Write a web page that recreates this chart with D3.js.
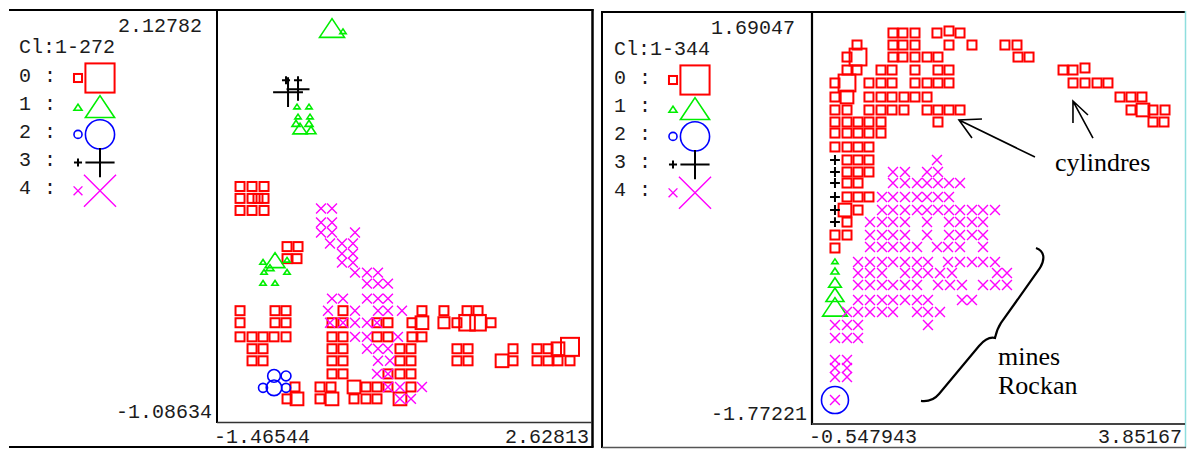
<!DOCTYPE html>
<html><head><meta charset="utf-8">
<script src="https://cdn.jsdelivr.net/npm/d3@7"></script>
<style>body{margin:0;background:#fff}svg{display:block}</style>
</head><body>
<script>
// ---------- axis extents (tick labels) ----------
const leftXDomain = [-1.46544, 2.62813];
const leftYDomain = [-1.08634, 2.12782];
const rightXDomain = [-0.547943, 3.85167];
const rightYDomain = [-1.77221, 1.69047];
const leftTitle = "Cl:1-272";
const rightTitle = "Cl:1-344";
const classLabels = ["0", "1", "2", "3", "4"];

// ---------- LEFT panel data : rows [y, [x...]] weight 1, heavy points [x,y,w] ----------
const L_sqRows = [
 [0.751, [-1.214, -1.083, -0.952]],
 [0.658, [-1.214, -1.083, -1.018, -0.952]],
 [0.564, [-1.214, -1.083, -0.952]],
 [0.282, [-0.701, -0.581]],
 [0.188, [-0.701, -0.592]],
 [-0.218, [-1.214, -0.832, -0.712, -0.090, 0.772, 1.012, 1.264, 1.384]],
 [-0.312, [-1.214, -0.832, -0.712, -0.210, -0.090, 0.281, 0.401, 0.663, 1.154, 1.526]],
 [-0.422, [-1.214, -1.083, -0.963, -0.843, -0.712, -0.210, -0.090, 0.281, 0.401, 0.663, 0.772]],
 [-0.515, [-1.083, -0.963, -0.210, -0.090, 0.532, 0.652, 1.154, 1.275, 1.766, 2.028, 2.148]],
 [-0.609, [-1.083, -0.963, -0.210, -0.090, 0.532, 0.652, 1.154, 1.275, 1.766, 2.028, 2.148, 2.257, 2.388]],
 [-0.711, [-0.210, -0.090, 0.401, 0.532, 0.652]],
 [-0.813, [-0.614, -0.341, -0.221, 0.161, 0.281, 0.401, 0.652]],
 [-0.906, [-0.701, -0.341, 0.030, 0.161, 0.281]]
];
const L_sqHeavy = [[0.772,-0.312,2],[1.012,-0.312,1.5],[1.264,-0.312,3],[1.384,-0.312,3],[2.257,-0.515,2],[2.388,-0.50,4],[1.646,-0.609,2],[0.030,-0.813,2],[-0.592,-0.906,2],[-0.210,-0.906,2],[0.532,-0.906,2]];
const L_tri = [[-0.210,1.963,7.7],[-0.090,1.956,0.5],[-0.592,1.369,0.5],[-0.461,1.369,0.5],[-0.581,1.291,0.5],[-0.450,1.291,0.5],[-0.603,1.236,0.8],[-0.461,1.236,0.8],[-0.559,1.189,2.5],[-0.439,1.182,1.2],[-0.832,0.157,4.9],[-0.963,0.157,0.5],[-0.701,0.173,0.5],[-0.952,0.079,0.5],[-0.701,0.079,0.5],[-0.963,-0.007,0.5],[-0.832,-0.007,0.5],[-0.887,0.110,0.8]];
const L_circ = [[-0.843,-0.727,2],[-0.712,-0.727,1.2],[-0.963,-0.820,1],[-0.843,-0.820,3],[-0.712,-0.820,1]];
const L_plus = [[-0.690,1.487,11],[-0.581,1.510,6.5],[-0.712,1.580,0.8],[-0.581,1.580,0.8]];
const L_xRows = [
 [0.579, [-0.330, -0.210]],
 [0.470, [-0.330, -0.210]],
 [0.392, [-0.330, -0.210, 0.041]],
 [0.306, [-0.232, -0.101, 0.019]],
 [0.227, [-0.101, 0.019]],
 [0.157, [-0.101, 0.019]],
 [0.079, [0.041, 0.172, 0.292]],
 [-0.007, [0.172, 0.292, 0.401]],
 [-0.124, [-0.210, -0.090, 0.172, 0.292, 0.401]],
 [-0.218, [-0.254, 0.041, 0.292, 0.401, 0.554]],
 [-0.312, [-0.232, -0.090, 0.041, 0.172, 0.281]],
 [-0.422, [0.041, 0.172, 0.510]],
 [-0.515, [0.172, 0.292, 0.401]],
 [-0.609, [0.292, 0.423]],
 [-0.711, [0.281, 0.401]],
 [-0.813, [0.401, 0.532, 0.772]],
 [-0.906, [0.532, 0.652]]
];

// ---------- RIGHT panel data ----------
const R_sqRows = [
 [1.514, [0.407, 0.525, 0.667, 0.926, 1.198]],
 [1.531, [1.068]],
 [1.413, [-0.017, 0.407, 0.525, 0.667, 1.068, 1.339, 1.728, 1.870]],
 [1.312, [-0.135, 0.407, 0.525, 0.667, 0.809, 0.938, 1.882, 2.012]],
 [1.203, [-0.135, -0.017, 0.266, 0.396, 0.667, 0.938, 1.068, 2.413, 2.531]],
 [1.220, [2.672]],
 [1.094, [-0.277, 0.124, 0.266, 0.396, 0.667, 0.809, 0.938, 1.068, 2.531, 2.672, 2.814, 2.943]],
 [0.976, [-0.277, 0.124, 0.266, 0.396, 0.537, 0.667, 0.809, 3.085, 3.215, 3.344]],
 [0.867, [-0.277, -0.135, 0.124, 0.266, 0.396, 0.537, 0.809, 0.938, 1.068, 1.198, 3.215, 3.474, 3.616]],
 [0.766, [-0.277, -0.135, -0.005, 0.124, 0.266, 0.938, 3.474, 3.604]],
 [0.673, [-0.277, -0.135, -0.005, 0.124, 0.266]],
 [0.556, [-0.277, -0.135, -0.005, 0.124]],
 [0.447, [-0.135, -0.005, 0.124]],
 [0.346, [-0.135, -0.005, 0.124]],
 [0.253, [-0.135, -0.005]],
 [0.136, [-0.135, -0.005, 0.124]],
 [0.026, [-0.005]],
 [-0.075, [-0.135]],
 [-0.184, [-0.277, -0.135]],
 [-0.293, [-0.277]]
];
const R_sqHeavy = [[-0.005,1.312,3.5],[-0.135,1.094,3.5],[-0.135,0.976,2],[3.356,0.867,2],[-0.159,0.026,2]];
const R_tri = [[-0.277,-0.411,0.5],[-0.277,-0.495,0.8],[-0.277,-0.596,2],[-0.277,-0.705,4],[-0.277,-0.814,7.5]];
const R_circ = [[-0.277,-1.571,9]];
const R_plus = [[-0.277,0.447,1.2],[-0.277,0.346,1.2],[-0.277,0.253,1.2],[-0.277,0.136,1.2],[-0.277,0.026,1.2],[-0.277,-0.075,1.2]];
const R_xRows = [
 [0.447, [0.926]],
 [0.346, [0.407, 0.549, 0.809, 0.938]],
 [0.253, [0.407, 0.549, 0.691, 0.809, 0.938, 1.068, 1.198]],
 [0.136, [0.278, 0.407, 0.549, 0.691, 0.809, 0.938, 1.068]],
 [0.026, [0.278, 0.407, 0.549, 0.691, 0.809, 0.938, 1.068, 1.198, 1.339, 1.469, 1.611]],
 [-0.075, [0.136, 0.278, 0.407, 0.549, 0.809, 1.068, 1.198, 1.339, 1.469]],
 [-0.184, [0.136, 0.278, 0.407, 0.549, 0.809, 1.068, 1.198, 1.339, 1.469]],
 [-0.285, [0.136, 0.278, 0.407, 0.549, 0.691, 0.926, 1.056, 1.198, 1.469]],
 [-0.411, [-0.005, 0.136, 0.278, 0.407, 0.549, 0.691, 0.820, 1.056, 1.198, 1.339, 1.469, 1.611]],
 [-0.503, [-0.005, 0.136, 0.278, 0.549, 0.691, 0.820, 0.962, 1.103, 1.634, 1.752]],
 [-0.604, [-0.005, 0.136, 0.278, 0.407, 0.549, 0.691, 0.938, 1.080, 1.221, 1.469, 1.611, 1.752]],
 [-0.730, [-0.005, 0.136, 0.278, 0.407, 0.549, 0.691, 0.820, 1.221, 1.339]],
 [-0.831, [-0.135, -0.005, 0.136, 0.278, 0.407, 0.691, 0.820, 0.962]],
 [-0.940, [-0.277, -0.135, -0.005, 0.820]],
 [-1.050, [-0.277, -0.135, -0.005]],
 [-1.234, [-0.277, -0.135]],
 [-1.302, [-0.277, -0.135]],
 [-1.377, [-0.277, -0.135]],
 [-1.571, [-0.277]]
];

// annotation anchors (data units, right panel)
const annCyl = [2.318, 0.354];
const annMines = [1.646, -1.276];

// legend marker weights (small / big)
const legendWeights = [0.8, 10.5];

// ---------- helpers ----------
function rowsToPts(rows, heavy) {
  const out = [];
  (rows || []).forEach(([y, xs]) => xs.forEach(x => out.push({x, y, w: 1})));
  (heavy || []).forEach(([x, y, w]) => out.push({x, y, w}));
  return out;
}
const sizeOf = w => 9 * Math.sqrt(w);
const colors = ["#ff0000", "#00ee00", "#0000ff", "#000000", "#ff00ff"];
const MONO = "'Liberation Mono','DejaVu Sans Mono',monospace";

function marker(g, cls, cx, cy, s) {
  const c = colors[cls];
  if (cls === 0) {
    g.append("rect").attr("x", cx - s/2).attr("y", cy - s/2).attr("width", s).attr("height", s)
      .attr("fill", "none").attr("stroke", c).attr("stroke-width", 2);
  } else if (cls === 1) {
    const h = 0.75 * s;
    g.append("path").attr("d", `M${cx},${cy - 2*h/3}L${cx + s/2},${cy + h/3}L${cx - s/2},${cy + h/3}Z`)
      .attr("fill", "none").attr("stroke", c).attr("stroke-width", 1.6).attr("stroke-linejoin", "miter");
  } else if (cls === 2) {
    g.append("circle").attr("cx", cx).attr("cy", cy).attr("r", s/2)
      .attr("fill", "none").attr("stroke", c).attr("stroke-width", 1.6);
  } else if (cls === 3) {
    g.append("path").attr("d", `M${cx - s/2},${cy}H${cx + s/2}M${cx},${cy - s/2}V${cy + s/2}`)
      .attr("stroke", c).attr("stroke-width", 2).attr("fill", "none");
  } else {
    const t = s * 1.1;
    g.append("path").attr("d", `M${cx - t/2},${cy - t/2}L${cx + t/2},${cy + t/2}M${cx + t/2},${cy - t/2}L${cx - t/2},${cy + t/2}`)
      .attr("stroke", c).attr("stroke-width", 1.4).attr("fill", "none");
  }
}

const svg = d3.select("body").append("svg").attr("width", 1188).attr("height", 449);

function panel(cfg) {
  const g = svg.append("g");
  const x = d3.scaleLinear().domain(cfg.xDomain).range([cfg.px0, cfg.px1]);
  const y = d3.scaleLinear().domain(cfg.yDomain).range([cfg.py1, cfg.py0]);

  const line = (x1, y1, x2, y2, w, col) => g.append("line").attr("x1", x1).attr("y1", y1).attr("x2", x2).attr("y2", y2)
      .attr("stroke", col || "#000").attr("stroke-width", w);
  cfg.frame(line);

  const sets = [cfg.squares, cfg.tris, cfg.circs, cfg.plus, cfg.xs];
  const mg = g.append("g");
  sets.forEach((pts, cls) => pts.forEach(p => marker(mg, cls, x(p.x), y(p.y), sizeOf(p.w))));

  const txt = (t, tx, ty, anchor) => g.append("text").attr("x", tx).attr("y", ty).attr("text-anchor", anchor)
      .attr("font-family", MONO).attr("font-size", 20).attr("fill", "#1c1c1c").text(t);
  txt(String(cfg.yDomain[1]), cfg.px0 - cfg.yMaxOff, cfg.py0 + 22, "end");
  txt(String(cfg.yDomain[0]), cfg.px0 - 5, cfg.py1 - 4, "end");
  txt(String(cfg.xDomain[0]), cfg.px0 - 3, 443, "start");
  txt(String(cfg.xDomain[1]), cfg.px1 - 3, 443, "end");

  const lx = cfg.lx, top = cfg.py0;
  txt(cfg.title, lx + 19, top + 43, "start");
  classLabels.forEach((lab, i) => {
    const by = top + 72 + 28 * i;
    txt(lab, lx + 19, by, "start");
    txt(":", lx + 44, by, "start");
    const cy = top + 68 + 28.2 * i;
    marker(g, i, lx + 78, cy + (i === 1 ? 2 : 0), sizeOf(legendWeights[0]));
    marker(g, i, lx + 100, cy + (i === 1 ? 4 : 0), sizeOf(legendWeights[1]));
  });
  return {g, x, y};
}

panel({
  xDomain: leftXDomain, yDomain: leftYDomain, px0: 217, px1: 592, py0: 10, py1: 422, lx: 0, yMaxOff: 15,
  title: leftTitle,
  squares: rowsToPts(L_sqRows, L_sqHeavy), tris: rowsToPts([], L_tri), circs: rowsToPts([], L_circ),
  plus: rowsToPts([], L_plus), xs: rowsToPts(L_xRows, []),
  frame: line => {
    line(9, 10, 593.5, 10, 2.2);
    line(592.5, 9, 592.5, 447.5, 2.5);
    line(9, 447, 593.5, 447, 2.2);
    line(217, 10, 217, 423, 2);
    line(217, 422.5, 592, 422.5, 1.5, "#333");
  }
});

const R = panel({
  xDomain: rightXDomain, yDomain: rightYDomain, px0: 812, px1: 1185, py0: 12, py1: 424, lx: 595, yMaxOff: 17,
  title: rightTitle,
  squares: rowsToPts(R_sqRows, R_sqHeavy), tris: rowsToPts([], R_tri), circs: rowsToPts([], R_circ),
  plus: rowsToPts([], R_plus), xs: rowsToPts(R_xRows, []),
  frame: line => {
    line(602, 11, 602, 448, 2);
    line(601, 12, 1186, 12, 2);
    line(1185.5, 11, 1185.5, 448, 1.5, "#8fdede");
    line(602, 447.5, 1186, 447.5, 1.5, "#555");
    line(812, 12, 812, 425, 2.2);
    line(812, 424, 1185, 424, 2.2, "#444");
  }
});

// ---------- annotations (right panel) ----------
const ag = R.g.append("g").attr("fill", "none").attr("stroke", "#000").attr("stroke-width", 1.6);
const cx0 = R.x(annCyl[0]), cy0 = R.y(annCyl[1]);
const serif = "'Liberation Serif','Times New Roman',serif";
R.g.append("text").attr("x", cx0).attr("y", cy0).attr("font-family", serif)
  .attr("font-size", 26).attr("fill", "#000").text("cylindres");
ag.append("path").attr("d", `M${cx0 - 20},${cy0 - 14}L${cx0 - 96},${cy0 - 51}M${cx0 - 73},${cy0 - 52}L${cx0 - 96},${cy0 - 51}L${cx0 - 83},${cy0 - 33}`);
ag.append("path").attr("d", `M${cx0 + 38},${cy0 - 33}L${cx0 + 18},${cy0 - 70}M${cx0 + 18},${cy0 - 48}L${cx0 + 18},${cy0 - 70}L${cx0 + 33},${cy0 - 56}`);

const mx = R.x(annMines[0]), my = R.y(annMines[1]);
R.g.append("text").attr("x", mx).attr("y", my).attr("font-family", serif).attr("font-size", 26).attr("fill", "#000").text("mines");
R.g.append("text").attr("x", mx).attr("y", my + 29).attr("font-family", serif).attr("font-size", 26).attr("fill", "#000").text("Rockan");
ag.append("path").attr("d",
  `M${mx + 38},${my - 117} C${mx + 47},${my - 114} ${mx + 47},${my - 105} ${mx + 42},${my - 97}` +
  ` L${mx + 3},${my - 42} C${mx - 1},${my - 36} ${mx - 2},${my - 31} ${mx - 3},${my - 27}` +
  ` C${mx - 7},${my - 28} ${mx - 13},${my - 26} ${mx - 19},${my - 19}` +
  ` L${mx - 59},${my + 29} C${mx - 64},${my + 35} ${mx - 69},${my + 37} ${mx - 77},${my + 36}`)
  .attr("stroke-width", 2.2);
</script>
</body></html>
